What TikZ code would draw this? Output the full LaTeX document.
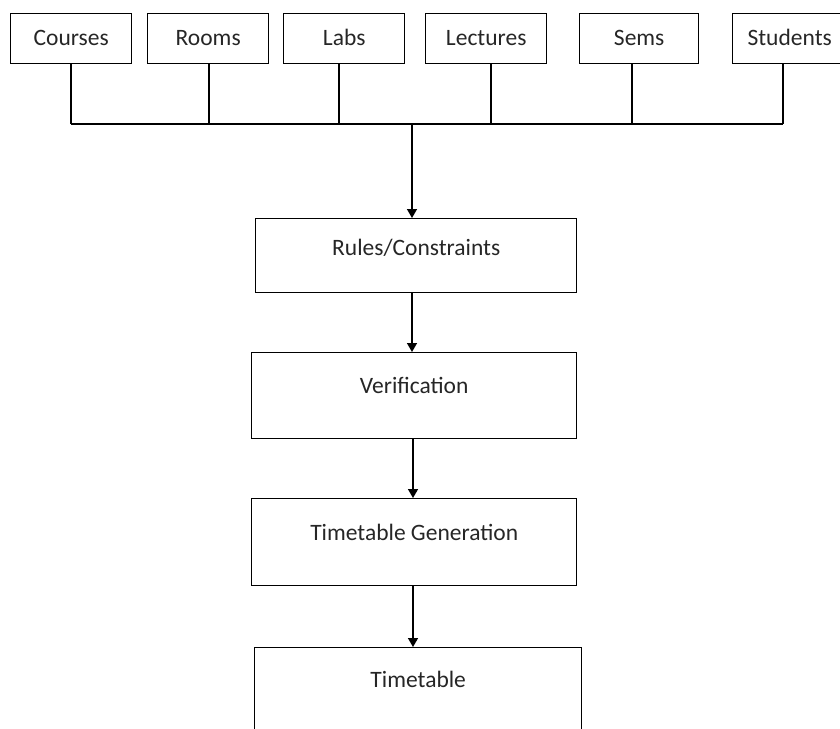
\documentclass[tikz,border=0pt]{standalone}
\usepackage{fontspec}
\setmainfont{Carlito}
\usetikzlibrary{arrows.meta}
\begin{document}
\begin{tikzpicture}[x=1pt,y=-1pt,
  every node/.style={font=\fontsize{23.5}{26}\selectfont, text=black!85},
  topbox/.style={draw, line width=1.4pt, inner sep=0pt, anchor=north west,
    minimum height=50pt, text height=32pt, text depth=18pt},
  flowbox/.style={draw, line width=1.4pt, inner sep=0pt, anchor=north west},
  wire/.style={line width=1.4pt},
  arr/.style={line width=1.4pt, -{Triangle[length=9pt,width=10pt]}}]
\useasboundingbox (0,0) rectangle (840,728);
\clip (0,0) rectangle (840,728);
% top boxes
\node[topbox, minimum width=121pt] (courses)  at (10,13)  {Courses};
\node[topbox, minimum width=121pt] (rooms)    at (147,13) {Rooms};
\node[topbox, minimum width=121pt] (labs)     at (283,13) {Labs};
\node[topbox, minimum width=121pt] (lectures) at (425,13) {Lectures};
\node[topbox, minimum width=119pt] (sems)     at (579,13) {Sems};
\node[topbox, minimum width=114pt] (students) at (732,13) {Students};
% flow boxes
\node[flowbox, minimum width=321pt, text height=37pt, text depth=37pt] (rules) at (255,218) {Rules/Constraints};
\node[flowbox, minimum width=325pt, text height=41pt, text depth=45pt] (verif) at (251,352) {Verification};
\node[flowbox, minimum width=325pt, text height=42pt, text depth=45pt] (tgen) at (251,498) {Timetable Generation};
\node[flowbox, minimum width=327pt, text height=40pt, text depth=60pt] (ttab) at (254,647) {Timetable};
% bus
\coordinate (b1) at (71,124);
\coordinate (b2) at (209,124);
\coordinate (b3) at (339,124);
\coordinate (b4) at (491,124);
\coordinate (b5) at (632,124);
\coordinate (b6) at (783,124);
\coordinate (bj) at (412,124);
\draw[wire] (courses.south -| b1) -- (b1);
\draw[wire] (rooms.south -| b2) -- (b2);
\draw[wire] (labs.south -| b3) -- (b3);
\draw[wire] (lectures.south -| b4) -- (b4);
\draw[wire] (sems.south -| b5) -- (b5);
\draw[wire] (students.south -| b6) -- (b6);
\draw[wire] (b1) -- (b6);
% arrows
\draw[arr] (bj) -- (rules.north -| bj);
\coordinate (c1) at (412,0);
\coordinate (c2) at (413,0);
\draw[arr] (rules.south -| c1) -- (verif.north -| c1);
\draw[arr] (verif.south -| c2) -- (tgen.north -| c2);
\draw[arr] (tgen.south -| c2) -- (ttab.north -| c2);
\end{tikzpicture}
\end{document}
